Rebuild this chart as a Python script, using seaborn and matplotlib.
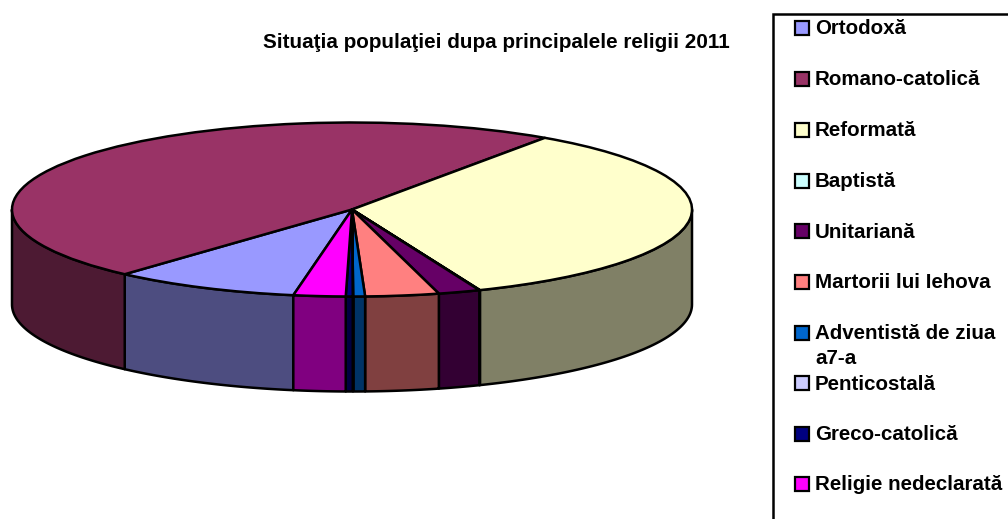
import numpy as np
import matplotlib
matplotlib.use("Agg")
import matplotlib.pyplot as plt
from matplotlib.patches import Rectangle
import seaborn as sns

title = "Situaţia populaţiei dupa principalele religii 2011"
categories = ["Ortodoxă", "Romano-catolică", "Reformată", "Baptistă", "Unitariană",
              "Martorii lui Iehova", "Adventistă de ziua\na7-a", "Penticostală",
              "Greco-catolică", "Religie nedeclarată"]
values = [8.9, 48.0, 34.3, 0.03, 2.0, 3.5, 0.56, 0.02, 0.33, 2.47]
top_colors = ["#9999FF", "#993366", "#FFFFCC", "#CCFFFF", "#660066",
              "#FF8080", "#0066CC", "#CCCCFF", "#000080", "#FF00FF"]

W, H = 1008, 519
CX, CY, RX, RY, DEPTH = 352, 209.5, 340, 87, 95
START = -99.94

sns.set_theme(style="white")
plt.rcParams["font.family"] = ["Liberation Sans", "DejaVu Sans"]
palette = sns.color_palette(top_colors)
side_colors = [tuple(c * 0.5 for c in col) for col in palette]

fig = plt.figure(figsize=(W / 100, H / 100), dpi=100, facecolor="white")
ax = fig.add_axes([0, 0, 1, 1])
LW = 1.8

# side walls: the part of every slice's rim on the near half of the ellipse
d = DEPTH / RY
fractions = np.array(values) / np.sum(values)
edges = START - 360 * np.concatenate([[0], np.cumsum(fractions)])
for i, col in enumerate(side_colors):
    hi, lo = edges[i], edges[i + 1]
    for shift in (0, -360):
        a = max(lo, -180 + shift)
        b = min(hi, 0 + shift)
        if b > a:
            t = np.radians(np.linspace(a, b, 60))
            x = np.cos(t)
            y = np.sin(t)
            ax.fill(np.r_[x, x[::-1]], np.r_[y, y[::-1] - d], facecolor=col,
                    edgecolor="black", linewidth=LW, joinstyle="round", zorder=1)

ax.pie(values, colors=palette, startangle=START, counterclock=False, radius=1,
       wedgeprops=dict(edgecolor="black", linewidth=LW, joinstyle="round", zorder=2))
ax.set_aspect("auto")
ax.set_xlim(-CX / RX, (W - CX) / RX)
ax.set_ylim((CY - H) / RY, CY / RY)
ax.set_axis_off()

# title and legend box, in pixel coordinates of an overlay
ov = fig.add_axes([0, 0, 1, 1], facecolor="none")
ov.set_xlim(0, W)
ov.set_ylim(H, 0)
ov.set_axis_off()
ov.text(496.5, 47.5, title, ha="center", va="baseline", fontsize=14.9, fontweight="bold", color="black")
ov.add_patch(Rectangle((773, 13.5), 260, 540, facecolor="white", edgecolor="black", linewidth=1.8))
key_y = [27.5, 78.5, 129.5, 180.5, 231, 282, 332.5, 383, 433.5, 484]
for name, col, y in zip(categories, palette, key_y):
    ov.add_patch(Rectangle((795, y - 7), 14, 14, facecolor=col, edgecolor="black", linewidth=1.6))
    for k, line in enumerate(name.split("\n")):
        ov.text(815, y + 6.5 + 25.5 * k, line, ha="left", va="baseline", fontsize=14.75,
                fontweight="bold", color="black")

fig.savefig("out.png", dpi=100)
